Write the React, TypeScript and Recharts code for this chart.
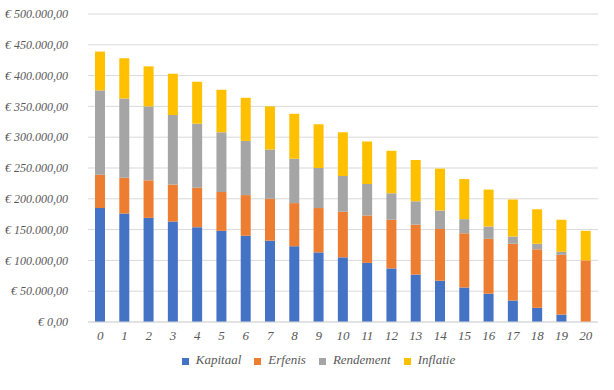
import {
  BarChart,
  Bar,
  XAxis,
  YAxis,
  Legend,
  CartesianGrid,
} from "recharts";

// jaren 0..20
const jaren = [
  "0", "1", "2", "3", "4", "5", "6", "7", "8", "9", "10",
  "11", "12", "13", "14", "15", "16", "17", "18", "19", "20",
];

// bedragen in euro's
const kapitaal = [
  185000, 176000, 169000, 163000, 154000, 148000, 140000, 132000, 123000, 113000, 105000,
  96000, 87000, 77000, 67000, 56000, 46000, 35000, 23000, 12000, 0,
];
const erfenis = [
  54000, 58000, 61000, 60000, 64000, 63000, 66000, 68000, 70000, 72000, 74000,
  77000, 79000, 81000, 84000, 88000, 89000, 92000, 95000, 97000, 100000,
];
const rendement = [
  137000, 129000, 120000, 113000, 104000, 97000, 88000, 80000, 72000, 65000, 58000,
  51000, 43000, 38000, 30000, 23000, 20000, 12000, 9000, 5000, 0,
];
const inflatie = [
  63000, 65000, 65000, 67000, 68000, 69000, 70000, 70000, 73000, 71000, 71000,
  69000, 69000, 67000, 68000, 65000, 60000, 60000, 56000, 52000, 48000,
];

const yTicks = [0, 50000, 100000, 150000, 200000, 250000, 300000, 350000, 400000, 450000, 500000];

const volgorde = ["Kapitaal", "Erfenis", "Rendement", "Inflatie"];

const data = jaren.map((jaar, i) => ({
  jaar,
  kapitaal: kapitaal[i],
  erfenis: erfenis[i],
  rendement: rendement[i],
  inflatie: inflatie[i],
}));

function formatEuro(value: number) {
  const s = Math.round(value)
    .toString()
    .replace(/\B(?=(\d{3})+(?!\d))/g, ".");
  return `€ ${s},00`;
}

const fontFamily = "Liberation Serif";
const tekstKleur = "#595959";

export default function App() {
  return (
    <div style={{ position: "absolute", left: 0, top: 0, background: "#fff" }}>
      <BarChart
        width={614}
        height={390}
        data={data}
        margin={{ top: 14, right: 16, left: 0, bottom: 22 }}
        barSize={10}
        style={{ fontFamily }}
      >
        <CartesianGrid vertical={false} stroke="#d9d9d9" />
        <XAxis
          dataKey="jaar"
          tick={{ fontSize: 13, fill: tekstKleur, fontFamily, fontStyle: "italic" }}
          tickLine={false}
          axisLine={{ stroke: "#d9d9d9" }}
          tickMargin={3}
          height={30}
        />
        <YAxis
          domain={[0, 500000]}
          ticks={yTicks}
          tickFormatter={formatEuro}
          tick={{ fontSize: 12, fill: tekstKleur, fontFamily, fontStyle: "italic" }}
          axisLine={false}
          tickLine={false}
          tickMargin={14}
          width={88}
        />
        <Legend
          verticalAlign="bottom"
          iconType="square"
          iconSize={7}
          itemSorter={(item: any) => volgorde.indexOf(item.value)}
          wrapperStyle={{ fontSize: 13, fontFamily, fontStyle: "italic", paddingLeft: 26 }}
          formatter={(value: string) => (
            <span style={{ color: tekstKleur, marginLeft: 3, marginRight: 3 }}>{value}</span>
          )}
        />
        <Bar dataKey="kapitaal" name="Kapitaal" stackId="a" fill="#4472C4" isAnimationActive={false} />
        <Bar dataKey="erfenis" name="Erfenis" stackId="a" fill="#ED7D31" isAnimationActive={false} />
        <Bar dataKey="rendement" name="Rendement" stackId="a" fill="#A5A5A5" isAnimationActive={false} />
        <Bar dataKey="inflatie" name="Inflatie" stackId="a" fill="#FFC000" isAnimationActive={false} />
      </BarChart>
    </div>
  );
}
